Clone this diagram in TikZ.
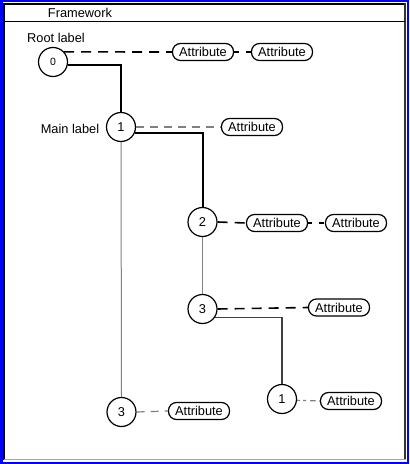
\documentclass[tikz,border=0pt]{standalone}
\usepackage{fontspec}
\setmainfont{Liberation Sans}
\usetikzlibrary{calc}
\definecolor{frameblue}{RGB}{0,0,255}
\definecolor{lgray}{RGB}{128,128,128}
\begin{document}
\begin{tikzpicture}[x=1bp,y=-1bp,
  every node/.style={font=\fontsize{12.8bp}{14bp}\selectfont},
  lvl/.style={circle,draw=black,line width=1.2bp,minimum size=29bp,inner sep=0pt,fill=white},
  attr/.style={draw=black,line width=1.2bp,rounded corners=8bp,minimum width=61bp,minimum height=17bp,inner sep=0pt},
  tree/.style={line width=2bp,black},
  thin/.style={line width=1bp,lgray},
  adash/.style={line width=1.6bp,black,dash pattern=on 10bp off 7bp},
  gdash/.style={line width=1.2bp,lgray,dash pattern=on 8bp off 6bp},
  lbl/.style={inner sep=0pt}]
\useasboundingbox (0,0) rectangle (409,464);
% frame
\draw[frameblue,line width=2.5bp] (1.25,1.25) rectangle (407.75,462.75);
\fill[white] (3.5,3.5) rectangle (405,460);
\draw[black,line width=1.3bp] (4,460) -- (4,4) -- (405,4);
\draw[black!80,line width=2.2bp] (405,3) -- (405,460);
\draw[lgray!70,line width=1.8bp] (3.5,459.5) -- (406,459.5);
\draw[black,line width=1.6bp] (4,21.5) -- (405,21.5);
\node[lbl] (title) at (80,12.5) {Framework};
% levels
\node[lvl,font=\fontsize{10.5bp}{12bp}\selectfont] (n0) at (53,62) {0};
\node[lvl] (n1) at (121,127) {1};
\node[lvl] (n2) at (202.5,222) {2};
\node[lvl] (n3m) at (202.5,309) {3};
\node[lvl] (n1r) at (282,399) {1};
\node[lvl] (n3b) at (121.5,412) {3};
% labels
\node[lbl] (rootlbl) at (56,38) {Root label};
\node[lbl] (mainlbl) at (70,128.5) {Main label};
% attributes
\node[attr] (a1) at (203,52) {Attribute};
\node[attr] (a2) at (282,52) {Attribute};
\node[attr] (a3) at (252,127) {Attribute};
\node[attr] (a4) at (277,223) {Attribute};
\node[attr] (a5) at (356,223) {Attribute};
\node[attr] (a6) at (339,307.5) {Attribute};
\node[attr] (a7) at (351,401) {Attribute};
\node[attr] (a8) at (199,411) {Attribute};
% tree connectors
\draw[tree] (n0.-10) -| (n1.north);
\draw[tree] (n1.-25) -| (n2.north);
\draw[thin] (n1.south) -- (n3b.north);
\draw[thin] (n2.south) -- (n3m.north);
\draw[line width=1.3bp,black!75] (n3m.-34) -| (n1r.north);
% attribute connectors
\draw[adash] (n0.42) -- (a1.west);
\draw[line width=1.4bp,black,dash pattern=on 5bp off 7bp on 5bp off 5bp] (a1.east) -- (a2.west);
\draw[gdash] (n1.east) -- (a3.west);
\draw[adash] (n2.east) -- (a4.west);
\draw[line width=1.4bp,black,dash pattern=on 4bp off 7bp on 5bp off 5bp] (a4.east) -- (a5.west);
\draw[adash] (n3m.east) -- (a6.west);
\draw[gdash,dash pattern=on 3bp off 3bp on 3bp off 4bp on 6bp off 3bp] (n1r.-5) -- (a7.west);
\draw[gdash] (n3b.east) -- (a8.west);
\end{tikzpicture}
\end{document}
